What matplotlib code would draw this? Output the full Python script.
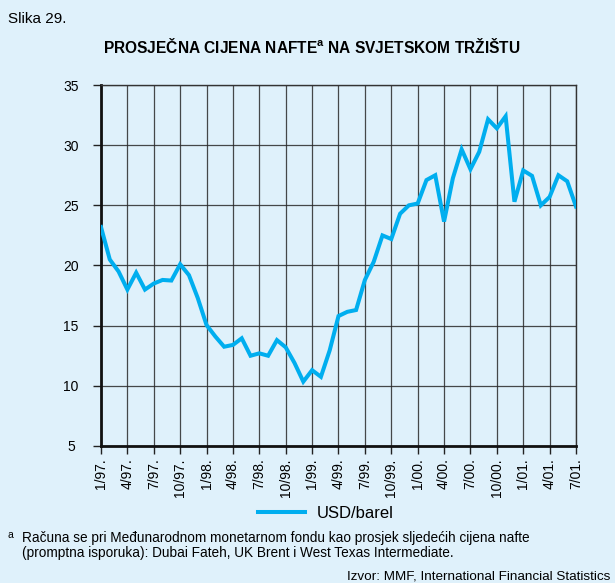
import numpy as np
import matplotlib.pyplot as plt

plt.rcParams['font.family'] = ['Liberation Sans', 'DejaVu Sans']
plt.rcParams['mathtext.fontset'] = 'custom'
plt.rcParams['mathtext.rm'] = 'Liberation Sans'
plt.rcParams['mathtext.bf'] = 'Liberation Sans:bold'

# mjesecne cijene, 1/97 - 7/01
cijene = [23.2, 20.5, 19.5, 18.0, 19.4, 18.0, 18.5, 18.8, 18.75, 20.1,
          19.2, 17.3, 15.05, 14.1, 13.25, 13.4, 13.95, 12.5, 12.7, 12.5,
          13.8, 13.2, 11.9, 10.35, 11.3, 10.75, 12.95, 15.8, 16.15, 16.3,
          18.8, 20.3, 22.5, 22.2, 24.3, 25.0, 25.15, 27.1, 27.5, 23.65,
          27.25, 29.65, 28.0, 29.45, 32.15, 31.4, 32.4, 25.3, 27.9, 27.45,
          25.0, 25.7, 27.5, 27.0, 24.9]
oznake = ['1/97.', '4/97.', '7/97.', '10/97.', '1/98.', '4/98.', '7/98.', '10/98.',
          '1/99.', '4/99.', '7/99.', '10/99.', '1/00.', '4/00.', '7/00.', '10/00.',
          '1/01.', '4/01.', '7/01.']
y_ticks = [5, 10, 15, 20, 25, 30, 35]

bg = '#dff1fb'
plava = '#00aeef'

fig = plt.figure(figsize=(6.15, 5.83), dpi=100, facecolor=bg)
ax = fig.add_axes([0.1642, 0.235, 0.7724, 0.6192], facecolor=bg)

x = np.arange(len(cijene))
ax.plot(x, cijene, color=plava, lw=2.9, solid_joinstyle='miter', zorder=3,
        label='USD/barel')

ax.set_xlim(0, len(cijene) - 1)
ax.set_ylim(5, 35)
ax.set_xticks(np.arange(0, len(cijene), 3))
ax.set_xticklabels(oznake, rotation=90, fontsize=10)
ax.set_yticks(y_ticks)
ax.set_yticklabels([str(v) for v in y_ticks], fontsize=10)
ax.tick_params(axis='both', direction='out', length=6, width=1, color='#222222', pad=3)
for lab in ax.get_yticklabels():
    lab.set_horizontalalignment('center')
    lab.set_x(-0.037)

ax.grid(True, color='#2a2a2a', lw=0.9, alpha=0.85)
for s in ['top', 'right']:
    ax.spines[s].set_linewidth(1.0)
    ax.spines[s].set_color('#333333')
for s in ['left', 'bottom']:
    ax.spines[s].set_linewidth(2.0)
    ax.spines[s].set_color('#111111')

fig.text(0.013, 0.968, 'Slika 29.', fontsize=11, va='center', ha='left')
fig.text(0.507, 0.92, r'PROSJEČNA CIJENA NAFTE$^{\mathbf{a}}$ NA SVJETSKOM TRŽIŠTU',
         fontsize=11.2, fontweight='bold', ha='center', va='center')

leg = fig.legend(loc='center', bbox_to_anchor=(0.53, 0.119), frameon=False,
                 fontsize=12, handlelength=2.8, handletextpad=0.75)

fig.text(0.013, 0.082, 'a', fontsize=7.5, ha='left', va='center')
fig.text(0.036, 0.077, 'Računa se pri Međunarodnom monetarnom fondu kao prosjek sljedećih cijena nafte',
         fontsize=9.8, ha='left', va='center')
fig.text(0.036, 0.051, '(promptna isporuka): Dubai Fateh, UK Brent i West Texas Intermediate.',
         fontsize=9.8, ha='left', va='center')
fig.text(0.992, 0.012, 'Izvor: MMF, International Financial Statistics',
         fontsize=9.7, ha='right', va='center')

fig.savefig('out.png', dpi=100, facecolor=bg)
